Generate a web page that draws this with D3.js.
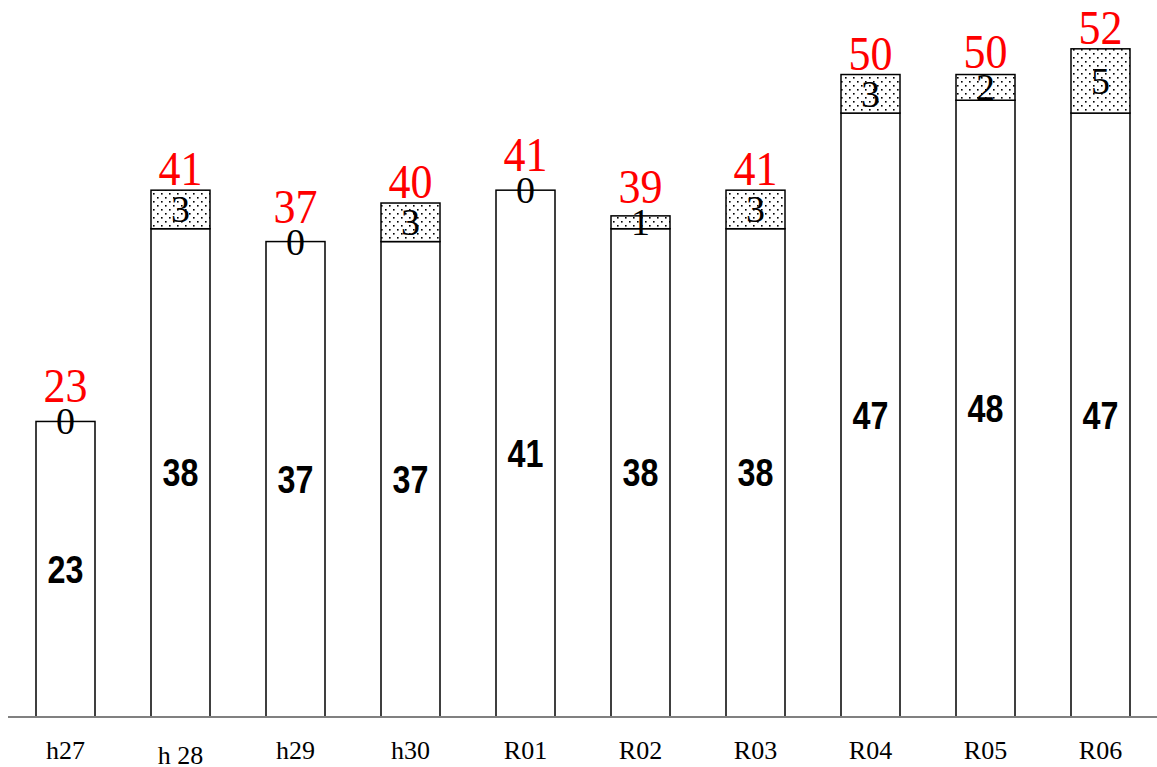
<!DOCTYPE html>
<html><head><meta charset="utf-8">
<script src="https://cdn.jsdelivr.net/npm/d3@7"></script>
<style>body{margin:0;background:#fff}svg{display:block}</style>
</head><body>
<svg id="c" width="1157" height="767"></svg>
<script>
const categories = ["h27","h 28","h29","h30","R01","R02","R03","R04","R05","R06"];
const lowerValues = [23,38,37,37,41,38,38,47,48,47];
const upperValues = [0,3,0,3,0,1,3,3,2,5];
const totalValues = [23,41,37,40,41,39,41,50,50,52];

const svg = d3.select("#c");
const W = 1157, H = 767;
const baseY = 717;

const defs = svg.append("defs");
const pat = defs.append("pattern").attr("id","dots").attr("patternUnits","userSpaceOnUse")
  .attr("width",8).attr("height",8);
pat.append("rect").attr("width",8).attr("height",8).attr("fill","#fff");
pat.append("rect").attr("x",1).attr("y",1).attr("width",1.6).attr("height",1.6).attr("fill","#000");
pat.append("rect").attr("x",5).attr("y",5).attr("width",1.6).attr("height",1.6).attr("fill","#000");

const x = d3.scaleBand().domain(categories).range([8,1158]).paddingInner(0.487).paddingOuter(0.2435);
const y = d3.scaleLinear().domain([0,55.8]).range([baseY,0]);

const data = categories.map((c,i)=>({c, lo:lowerValues[i], up:upperValues[i], tot:totalValues[i]}));
const cx = d => x(d.c)+x.bandwidth()/2;

const g = svg.append("g");
g.selectAll("rect.lo").data(data).join("rect").attr("class","lo")
  .attr("x",d=>x(d.c)).attr("width",x.bandwidth())
  .attr("y",d=>y(d.lo)).attr("height",d=>y(0)-y(d.lo))
  .attr("fill","#fff").attr("stroke","#000").attr("stroke-width",1.5);
g.selectAll("rect.up").data(data.filter(d=>d.up>0)).join("rect").attr("class","up")
  .attr("x",d=>x(d.c)).attr("width",x.bandwidth())
  .attr("y",d=>y(d.lo+d.up)).attr("height",d=>y(d.lo)-y(d.lo+d.up))
  .attr("fill","url(#dots)").attr("stroke","#000").attr("stroke-width",1.5);

svg.append("line").attr("x1",8).attr("x2",W).attr("y1",baseY).attr("y2",baseY)
  .attr("stroke","#808080").attr("stroke-width",2);

// lower labels (condensed gothic look)
g.selectAll("text.lo").data(data).join("text").attr("class","lo")
  .attr("transform",d=>`translate(${cx(d)},${y(d.lo/2)}) scale(0.85,1)`)
  .attr("text-anchor","middle").attr("dominant-baseline","central")
  .attr("font-family","'Liberation Sans',sans-serif")
  .attr("font-weight","bold").attr("font-size",38).attr("fill","#000")
  .text(d=>d.lo);
// upper labels
g.selectAll("text.up").data(data).join("text").attr("class","up")
  .attr("x",cx).attr("y",d=>y(d.lo+d.up/2))
  .attr("text-anchor","middle").attr("dominant-baseline","central")
  .attr("font-family","'Liberation Serif',serif")
  .attr("font-size",38).attr("fill","#000")
  .text(d=>d.up);
// totals
g.selectAll("text.tot").data(data).join("text").attr("class","tot")
  .attr("transform",d=>`translate(${cx(d)},${Math.min(y(d.tot)-5, y(d.lo+d.up/2)-19)}) scale(1,1.1)`)
  .attr("text-anchor","middle")
  .attr("font-family","'Liberation Serif',serif")
  .attr("font-size",44).attr("fill","#ff0000")
  .text(d=>d.tot);

// category labels
const ax = svg.append("g").attr("transform",`translate(0,${baseY})`)
  .call(d3.axisBottom(x).tickSize(0).tickPadding(0));
ax.select(".domain").remove();
ax.selectAll("text")
  .attr("y",d=>d.indexOf(" ")>=0?47:42)
  .attr("dy",0)
  .attr("font-family","'Liberation Serif',serif").attr("font-size",26).attr("fill","#000");
</script>
</body></html>
